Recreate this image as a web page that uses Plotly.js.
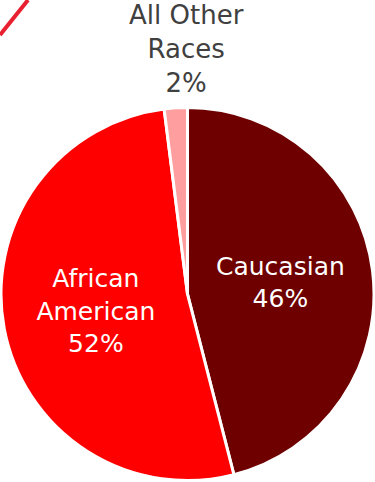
<!DOCTYPE html>
<html><head><meta charset="utf-8">
<script src="https://cdn.plot.ly/plotly-3.0.1.min.js"></script>
<style>html,body{margin:0;padding:0;background:#fff}#chart{width:375px;height:482px}</style>
</head><body><div id="chart"></div>
<script>
const categories = ["Caucasian", "African<br>American", "All Other<br>Races"];
const shares = [46, 52, 2];
const sliceColors = ["#6E0000", "#FF0000", "#FF9E9E"];
const textPositions = ["inside", "inside", "none"];

const FONT = "'DejaVu Sans', sans-serif";
const total = shares.reduce((a, b) => a + b, 0);

const trace = {
  type: "pie",
  labels: categories,
  values: shares,
  sort: false,
  direction: "clockwise",
  rotation: 0,
  marker: {colors: sliceColors, line: {color: "#FFFFFF", width: 3}},
  texttemplate: "%{label}<br>%{percent:.0%}",
  textposition: textPositions,
  insidetextorientation: "horizontal",
  insidetextfont: {family: FONT, size: 25, color: "#FFFFFF"},
  hoverinfo: "none",
  showlegend: false,
  domain: {x: [1/375, 374/375], y: [0.002, 0.778]},
  automargin: false
};

const layout = {
  width: 375, height: 482,
  margin: {l: 0, r: 0, t: 0, b: 0},
  paper_bgcolor: "#FFFFFF",
  showlegend: false,
  font: {family: FONT},
  annotations: [{
    xref: "paper", yref: "paper", x: 186/375, y: 1 - 100/482,
    xanchor: "center", yanchor: "bottom", showarrow: false,
    text: categories[2] + "<br>" + Math.round(shares[2] / total * 100) + "%",
    font: {family: FONT, size: 26, color: "#404040"}
  }],
  shapes: [{type: "line", xref: "paper", yref: "paper", x0: 0, y0: 1 - 35/482, x1: 28/375, y1: 1, line: {color: "#E8202F", width: 4}}]
};
Plotly.newPlot("chart", [trace], layout, {staticPlot: true});
</script></body></html>
